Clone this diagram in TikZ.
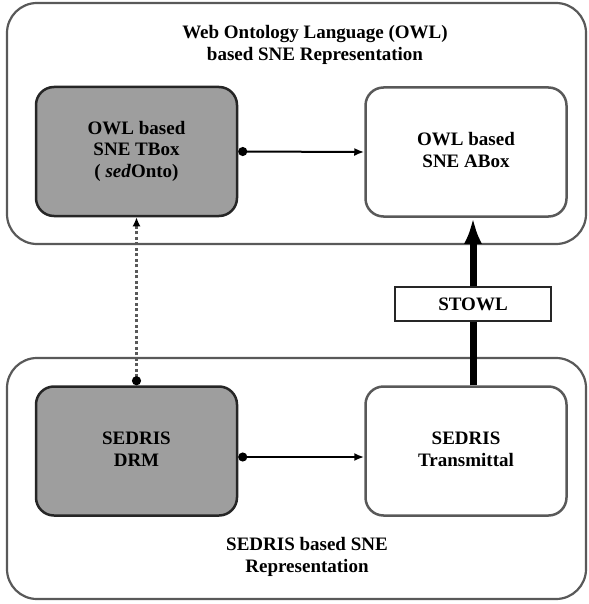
\documentclass[tikz,border=0pt]{standalone}
\usepackage{fontspec}
\setmainfont{Liberation Serif}
\usetikzlibrary{arrows.meta}
\definecolor{boxgray}{gray}{0.62}
\definecolor{edgegray}{gray}{0.35}

\begin{document}
\begin{tikzpicture}[x=1pt,y=-1pt,
    font=\bfseries\fontsize{19}{21.5}\selectfont,
    area/.style={draw=edgegray, line width=2.2pt, rounded corners=30pt},
    block/.style={draw=black!85, line width=2.5pt, rounded corners=18pt,
      minimum width=201pt, minimum height=129pt, inner sep=0pt},
    txt/.style={align=center, inner sep=0pt},
    link/.style={line width=2pt, {Circle[length=9pt]}-{Latex[length=10pt,width=8pt]}}]
    \useasboundingbox (0,0) rectangle (588,604);
    % the two representations
    \draw[area] (7,3) rectangle (586,244);
    \draw[area] (7,358) rectangle (586,599);
    \node[txt] (owltitle) at (315,45) {Web Ontology Language (OWL)\\based SNE Representation};
    \node[txt] (sedristitle) at (307,557) {SEDRIS based SNE\\Representation};
    % boxes
    \node[block, fill=boxgray] (tbox) at (136.5,151.5)
      {\raisebox{-4pt}{\begin{tabular}{@{}c@{}}OWL based\\SNE TBox\\( \textit{sed}Onto)\end{tabular}}};
    \node[block, draw=edgegray] (abox) at (466,152)
      {\raisebox{7pt}{\begin{tabular}{@{}c@{}}OWL based\\SNE ABox\end{tabular}}};
    \node[block, fill=boxgray] (drm) at (136.5,451)
      {\raisebox{-6pt}{\begin{tabular}{@{}c@{}}SEDRIS\\DRM\end{tabular}}};
    \node[block, draw=edgegray] (trans) at (466,451)
      {\raisebox{7pt}{\begin{tabular}{@{}c@{}}SEDRIS\\Transmittal\end{tabular}}};
    % connectors
    \draw[link] (tbox.east) -- (abox.west);
    \draw[link] ([yshift=-6pt]drm.east) -- ([yshift=-6pt]trans.west);
    \draw[line width=2.4pt, black!65, dash pattern=on 3pt off 2.5pt,
      {Circle[length=9pt,black]}-{Latex[length=9pt,width=8pt,black]}] (drm.north) -- (tbox.south);
    \draw[line width=7pt, -{Latex[length=26pt,width=18pt]}]
      ([xshift=7pt]trans.north) -- ([xshift=7pt]abox.south);
    \node[draw=black!85, line width=2pt, fill=white, minimum width=156pt,
      minimum height=34pt, inner sep=0pt] (stowl) at (473,304) {STOWL};
\end{tikzpicture}
\end{document}
